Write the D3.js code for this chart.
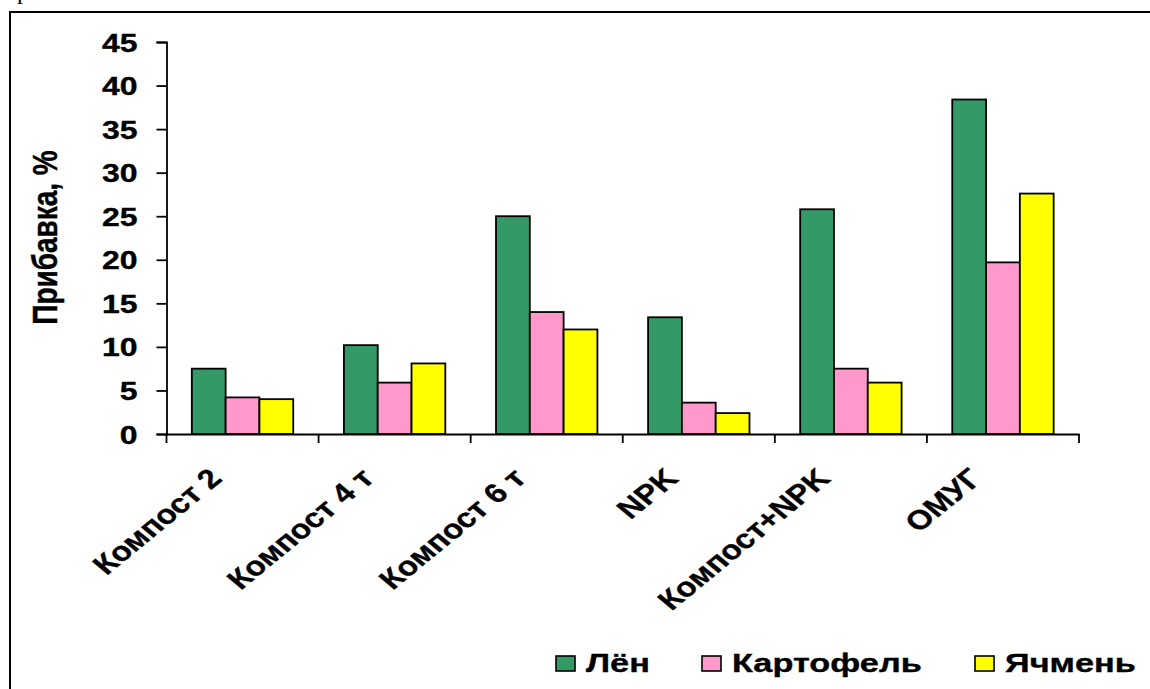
<!DOCTYPE html>
<html><head><meta charset="utf-8">
<script src="https://cdn.jsdelivr.net/npm/d3@7"></script>
<style>
html,body{margin:0;padding:0;background:#fff;overflow:hidden;}
svg{display:block;}
text{font-family:"Liberation Sans",Arial,sans-serif;font-weight:bold;fill:#000;stroke:#000;stroke-width:0.35px;}
</style></head>
<body>
<svg id="chart" width="1150" height="689"></svg>
<script>
const categories = ["Компост 2", "Компост 4 т", "Компост 6 т", "NPK", "Компост+NPK", "ОМУГ"];
const seriesNames = ["Лён", "Картофель", "Ячмень"];
const lenValues = [7.5, 10.2, 25.0, 13.4, 25.8, 38.4];
const kartofelValues = [4.2, 5.9, 14.0, 3.6, 7.5, 19.7];
const yachmenValues = [4.0, 8.1, 12.0, 2.4, 5.9, 27.6];
const yTicks = [0, 5, 10, 15, 20, 25, 30, 35, 40, 45];
const colors = ["#339966", "#FF99CC", "#FFFF00"];

const seriesValues = [lenValues, kartofelValues, yachmenValues];
const SX = 1.28;   // horizontal text stretch seen in the reference
const SXL = 1.22;  // stretch for rotated category labels
const SXG = 1.32;  // stretch for legend labels

const svg = d3.select("#chart");

// outer frame (extends beyond the visible area)
svg.append("rect").attr("x", 10).attr("y", 12).attr("width", 1200).attr("height", 740)
  .attr("fill", "none").attr("stroke", "#000").attr("stroke-width", 2);
// cut-off caption fragment at the very top
svg.append("text").attr("x", 17).attr("y", -1).text("р")
  .style("font-family", "'Liberation Serif','Times New Roman',serif").style("font-weight", "normal")
  .style("stroke-width", "0").style("font-size", "24px");

const x = d3.scaleBand().domain(categories).range([166.5, 1079]).paddingInner(0).paddingOuter(0);
const xs = d3.scaleBand().domain(seriesNames).range([0, x.bandwidth()]).paddingInner(0).paddingOuter(0.75);
const y = d3.scaleLinear().domain([0, 45]).range([434, 42]);

// bars
seriesNames.forEach((s, si) => {
  svg.append("g").selectAll("rect").data(categories).join("rect")
    .attr("x", c => x(c) + xs(s))
    .attr("y", (c, i) => y(seriesValues[si][i]))
    .attr("width", xs.bandwidth())
    .attr("height", (c, i) => y(0) - y(seriesValues[si][i]))
    .attr("fill", colors[si])
    .attr("stroke", "#000").attr("stroke-width", 1.8);
});

// y axis
const yAxis = svg.append("g").attr("transform", "translate(166.5,0)")
  .call(d3.axisLeft(y).tickValues(yTicks).tickSize(10).tickPadding(0).tickFormat(d3.format("d")));
yAxis.select(".domain").attr("stroke", "#000").attr("stroke-width", 1.8);
yAxis.selectAll(".tick line").attr("stroke", "#000").attr("stroke-width", 1.8);
yAxis.selectAll(".tick text").remove();
yAxis.selectAll(".tick").append("text")
  .attr("text-anchor", "end")
  .attr("transform", `translate(-29,9) scale(${SX},1)`)
  .style("font-size", "25px")
  .text(d => d);

// x axis
const xAxis = svg.append("g").attr("transform", "translate(0,434)")
  .call(d3.axisBottom(x).tickSize(0).tickFormat(""));
xAxis.select(".domain").attr("stroke", "#000").attr("stroke-width", 1.8);
xAxis.selectAll(".tick").remove();
const bounds = categories.map(c => x(c)).concat([x.range()[1]]);
xAxis.selectAll("line.cat").data(bounds).join("line").attr("class", "cat")
  .attr("x1", d => d).attr("x2", d => d).attr("y1", 0).attr("y2", 9)
  .attr("stroke", "#000").attr("stroke-width", 1.8);

// rotated category labels
svg.append("g").selectAll("text").data(categories).join("text")
  .attr("text-anchor", "end")
  .attr("transform", c => `translate(${x(c) + x.bandwidth() / 2 - 19},480) scale(${SXL},1) rotate(-45)`)
  .style("font-size", "27px")
  .text(c => c);

// y title
svg.append("text")
  .attr("text-anchor", "middle")
  .attr("transform", `translate(57,237.5) scale(${SX},1) rotate(-90)`)
  .style("font-size", "28px")
  .text("Прибавка, %");

// legend
const legendX = [556, 702, 975];
const lg = svg.append("g");
seriesNames.forEach((s, i) => {
  lg.append("rect").attr("x", legendX[i]).attr("y", 656).attr("width", 19).attr("height", 15)
    .attr("fill", colors[i]).attr("stroke", "#000").attr("stroke-width", 1.6);
  lg.append("text")
    .attr("transform", `translate(${legendX[i] + 30},672) scale(${SXG},1)`)
    .style("font-size", "26px")
    .text(s);
});
</script>
</body></html>
